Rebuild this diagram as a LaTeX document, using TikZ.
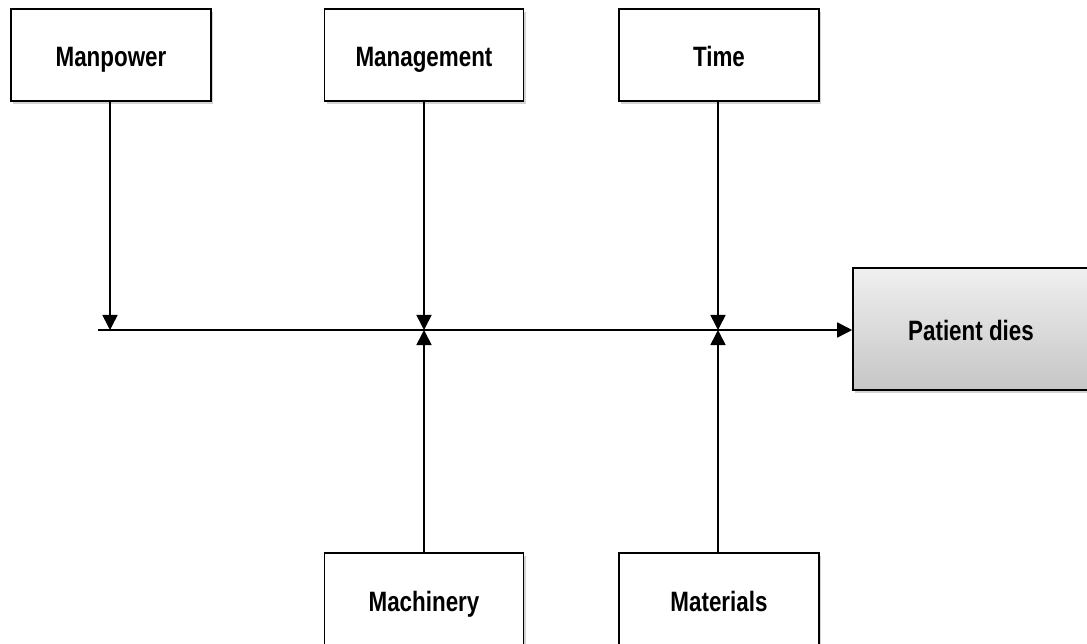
\documentclass[tikz,border=0pt]{standalone}
\usepackage{fontspec}
\setmainfont{Liberation Sans}[FakeStretch=0.8]
\usetikzlibrary{arrows.meta,shadows,positioning}
\begin{document}
\begin{tikzpicture}[x=1pt,y=-1pt,
  box/.style={draw=black,line width=1.6pt,fill=white,minimum width=199pt,minimum height=92pt,
    inner sep=0pt,font=\fontsize{28}{32}\selectfont\bfseries,text height=24pt,text depth=0pt,
    drop shadow={opacity=0.35,shadow xshift=2pt,shadow yshift=-3pt}},
  effect/.style={box,minimum width=236pt,minimum height=122pt,
    top color=gray!12,bottom color=gray!45},
  arr/.style={line width=1.6pt,-{Triangle[width=15pt,length=15pt]}},
  mainline/.style={line width=1.6pt,draw=black,-{Triangle[width=15pt,length=15pt]}}]
\useasboundingbox (0,0) rectangle (1087,644);
\node[box,minimum width=200pt] (manpower) at (111,55) {Manpower};
\node[box] (management) at (424,55) {Management};
\node[box,minimum width=200pt] (time) at (719,55) {Time};
\node[box] (machinery) at (424,599) {Machinery};
\node[box,minimum width=200pt] (materials) at (719,599) {Materials};
\node[effect] (patient) at (971,329) {Patient dies};
\coordinate (start) at (98,330);
\coordinate (j1) at (110,330);
\coordinate (j2) at (424,330);
\coordinate (j3) at (718,330);
\draw[mainline] (start) -- (start -| patient.west);
\draw[arr] (manpower.south -| j1) -- (j1);
\draw[arr] (management.south -| j2) -- (j2);
\draw[arr] (time.south -| j3) -- (j3);
\draw[arr] (machinery.north -| j2) -- (j2);
\draw[arr] (materials.north -| j3) -- (j3);
\end{tikzpicture}
\end{document}
